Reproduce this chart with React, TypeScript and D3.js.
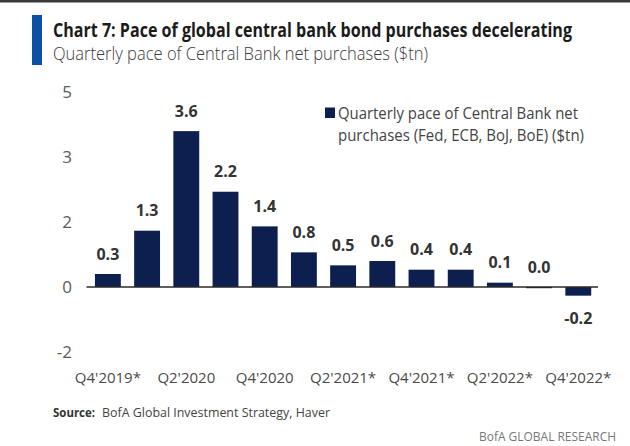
import React from "react";
import * as d3 from "d3";

const categories = [
  "Q4'2019*", "Q1'2020", "Q2'2020", "Q3'2020", "Q4'2020", "Q1'2021", "Q2'2021*",
  "Q3'2021*", "Q4'2021*", "Q1'2022*", "Q2'2022*", "Q3'2022*", "Q4'2022*",
];
const values = [0.3, 1.3, 3.6, 2.2, 1.4, 0.8, 0.5, 0.6, 0.4, 0.4, 0.1, 0.0, -0.2];
const tickLabels = ["5", "3", "2", "0", "-2"];

const title = "Chart 7: Pace of global central bank bond purchases decelerating";
const subtitle = "Quarterly pace of Central Bank net purchases ($tn)";
const legendLines = ["Quarterly pace of Central Bank net", "purchases (Fed, ECB, BoJ, BoE) ($tn)"];
const sourceLabel = "Source:";
const sourceText = "BofA Global Investment Strategy, Haver";
const brand = "BofA GLOBAL RESEARCH";

const W = 630;
const H = 446;
const FONT = "'Liberation Sans Narrow', 'Open Sans', 'Noto Sans', sans-serif";
const BAR = "#0c1f4e";

export default function App() {
  const yAxis = d3.scalePoint<string>().domain(tickLabels).range([92, 352]);
  const y0 = yAxis("0") as number;
  const unit = 43.3;
  const yBar = d3.scaleLinear().domain([-1, 4]).range([y0 + unit, y0 - 4 * unit]);
  const x = d3
    .scaleBand<string>()
    .domain(categories)
    .range([88.3, 597.9])
    .paddingInner(0.34)
    .paddingOuter(0.17);
  const bw = x.bandwidth();

  return (
    <svg
      width={W}
      height={H}
      viewBox={`0 0 ${W} ${H}`}
      style={{ position: "absolute", left: 0, top: 0, background: "#ffffff" }}
    >
      <rect x={0} y={0} width={W} height={H} fill="#ffffff" />
      <rect x={0} y={0} width={W} height={2.5} fill="#3a3a3a" />
      <rect x={32} y={15} width={10} height={50} fill="#0b52a6" />
      <text x={53} y={37} fontFamily={FONT} fontWeight={700} fontSize={19} fill="#1b1b1b"
        textLength={519} lengthAdjust="spacingAndGlyphs">{title}</text>
      <text x={53} y={60} fontFamily={FONT} fontWeight={300} fontSize={17.5} fill="#3a3a3a"
        textLength={375} lengthAdjust="spacingAndGlyphs">{subtitle}</text>

      {/* y ticks */}
      {tickLabels.map((t) => (
        <text key={t} x={72} y={(yAxis(t) as number) + 6} textAnchor="end" fontFamily={FONT}
          fontSize={17} fill="#5a5a5a">{t}</text>
      ))}

      {/* bars */}
      {values.map((v, i) => (
        <rect key={categories[i]} x={x(categories[i])} y={Math.min(yBar(v), yBar(0))}
          width={bw} height={Math.max(Math.abs(yBar(v) - yBar(0)), v === 0 ? 1.2 : 0)} fill={BAR} />
      ))}

      {/* zero line */}
      <line x1={86.5} x2={598} y1={yBar(0)} y2={yBar(0)} stroke="#2a2a2a" strokeWidth={1.6} />

      {/* value labels */}
      {values.map((v, i) => (
        <text key={"l" + i} x={(x(categories[i]) as number) + bw / 2}
          y={v >= 0 ? yBar(v) - 14.5 : yBar(v) + 28} textAnchor="middle" fontFamily={FONT}
          fontWeight={700} fontSize={16} fill="#333">{v.toFixed(1)}</text>
      ))}

      {/* x labels */}
      {categories.map((c, i) =>
        i % 2 === 0 ? (
          <text key={"x" + c} x={(x(c) as number) + bw / 2} y={383} textAnchor="middle"
            fontFamily={FONT} fontSize={15} fill="#4a4a4a">{c}</text>
        ) : null
      )}

      {/* legend */}
      <rect x={325} y={107.5} width={10} height={10.5} fill={BAR} />
      <text x={338} y={119} fontFamily={FONT} fontSize={16} fill="#444"
        textLength={240} lengthAdjust="spacingAndGlyphs">{legendLines[0]}</text>
      <text x={338} y={141} fontFamily={FONT} fontSize={16} fill="#444"
        textLength={246} lengthAdjust="spacingAndGlyphs">{legendLines[1]}</text>

      {/* source */}
      <text x={53} y={417} fontFamily={FONT} fontWeight={700} fontSize={13} fill="#333"
        textLength={42} lengthAdjust="spacingAndGlyphs">{sourceLabel}</text>
      <text x={102} y={417} fontFamily={FONT} fontSize={13} fill="#444"
        textLength={228} lengthAdjust="spacingAndGlyphs">{sourceText}</text>
      <text x={616} y={441} textAnchor="end" fontFamily={FONT} fontSize={13} fill="#777"
        textLength={137} lengthAdjust="spacingAndGlyphs">{brand}</text>
    </svg>
  );
}
